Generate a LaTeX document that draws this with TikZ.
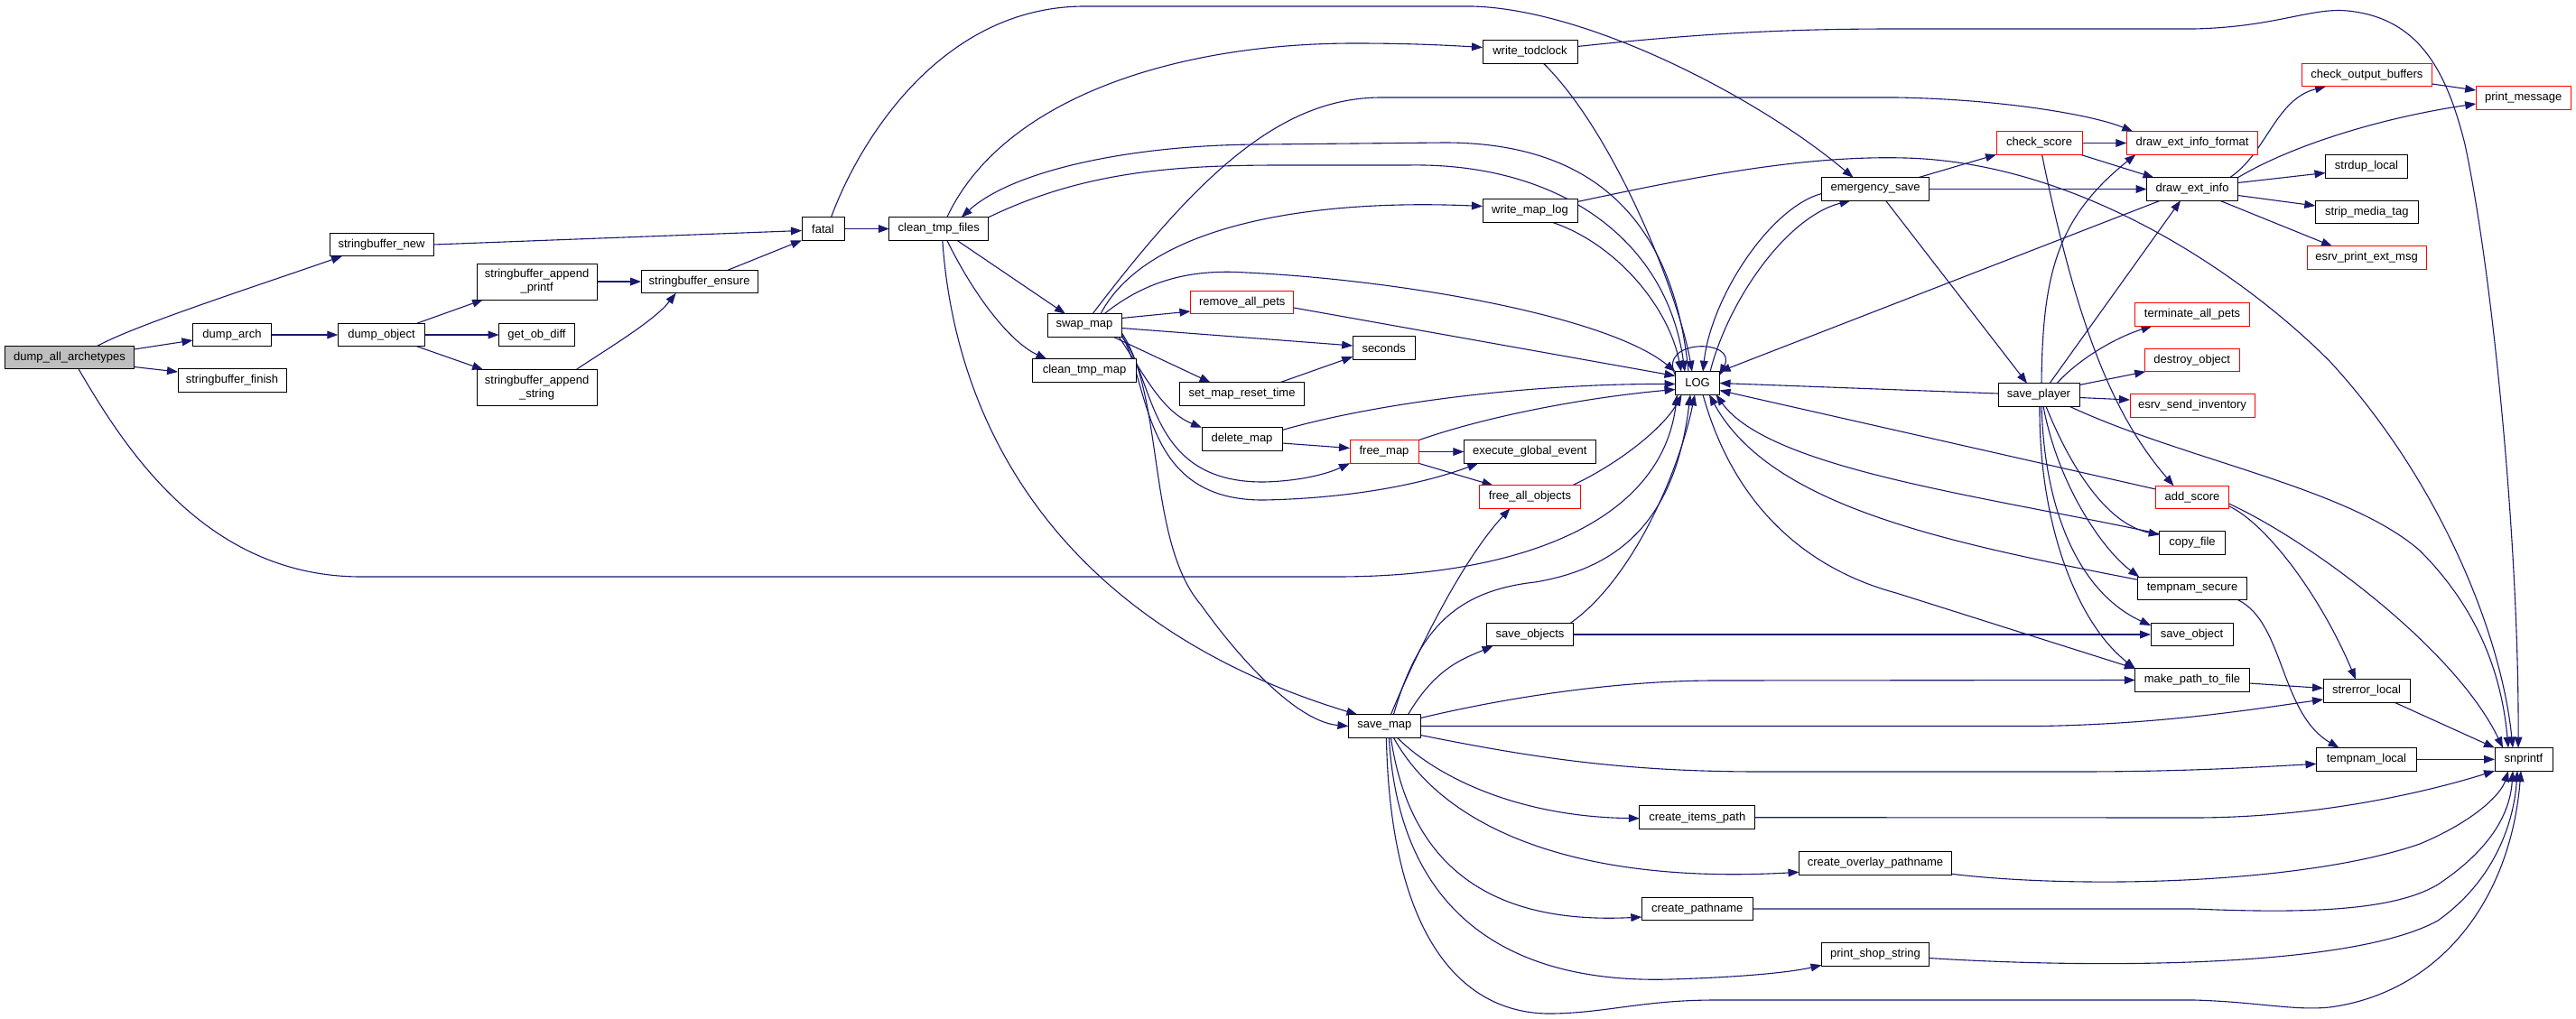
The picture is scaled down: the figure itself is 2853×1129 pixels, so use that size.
\documentclass[tikz,border=0pt]{standalone}
\usepackage{fontspec}
\setmainfont{Liberation Sans}
\usetikzlibrary{arrows.meta,calc}
\definecolor{edgec}{HTML}{191970}
\pgfdeclarelayer{bglayer}
\pgfdeclarelayer{edgelayer}
\pgfsetlayers{bglayer,edgelayer,main}
\begin{document}
\begin{tikzpicture}[x=0.5pt,y=-0.5pt,
  box/.style={draw=black,line width=0.5pt,fill=white,inner sep=0pt,outer sep=0pt,minimum height=12.75pt,font=\fontsize{6.5}{7.6}\selectfont,align=center},
  redbox/.style={box,draw=red},
  e/.style={draw=edgec,line width=0.55pt,-{Triangle[length=6pt,width=4.4pt]}}]
\begin{pgfonlayer}{bglayer}
\fill[white] (0,0) rectangle (2853,1129);
\end{pgfonlayer}
\useasboundingbox (0,0) rectangle (2853,1129);
% nodes
\node[box,minimum width=71.5pt,fill=gray!50] (dall) at (77,396) {dump\_all\_archetypes};
\node[box,minimum width=57.5pt] (sbnew) at (422.5,271) {stringbuffer\_new};
\node[box,minimum width=43.5pt] (darch) at (257,371) {dump\_arch};
\node[box,minimum width=60pt] (sbfinish) at (257,421.5) {stringbuffer\_finish};
\node[box,minimum width=48.25pt] (dobject) at (422.5,371) {dump\_object};
\node[box,minimum width=66.5pt,minimum height=20pt] (sbprintf) at (594.6,312) {stringbuffer\_append\\\_printf};
\node[box,minimum width=42pt] (getob) at (594.5,371) {get\_ob\_diff};
\node[box,minimum width=66.5pt,minimum height=20pt] (sbstring) at (594.6,429.5) {stringbuffer\_append\\\_string};
\node[box,minimum width=64.5pt] (sbensure) at (774.6,312) {stringbuffer\_ensure};
\node[box,minimum width=23.5pt] (fatal) at (911.5,253.5) {fatal};
\node[box,minimum width=55pt] (ctf) at (1039.8,253.5) {clean\_tmp\_files};
\node[box,minimum width=41pt] (swapmap) at (1201,360.5) {swap\_map};
\node[box,minimum width=57.5pt] (ctmap) at (1201,410.5) {clean\_tmp\_map};
\node[redbox,minimum width=57.25pt] (rmpets) at (1375.7,335) {remove\_all\_pets};
\node[box,minimum width=69pt] (smrt) at (1375.6,436.5) {set\_map\_reset\_time};
\node[box,minimum width=44.5pt] (delmap) at (1375.5,486.5) {delete\_map};
\node[box,minimum width=52.5pt] (wtod) at (1694.5,57.5) {write\_todclock};
\node[box,minimum width=52.5pt] (wmaplog) at (1694.5,233.5) {write\_map\_log};
\node[box,minimum width=34.5pt] (seconds) at (1532.7,385.5) {seconds};
\node[redbox,minimum width=38pt] (freemap) at (1533,500.5) {free\_map};
\node[box,minimum width=73pt] (egevent) at (1694.3,500.5) {execute\_global\_event};
\node[redbox,minimum width=56pt] (fao) at (1694.5,550.5) {free\_all\_objects};
\node[box,minimum width=48pt] (sobjs) at (1694.5,703) {save\_objects};
\node[box,minimum width=40pt] (savemap) at (1533.4,804.5) {save\_map};
\node[box,minimum width=24.5pt] (LOG) at (1880,424.5) {LOG};
\node[box,minimum width=59.5pt] (esave) at (2077,209.5) {emergency\_save};
\node[box,minimum width=64pt] (citems) at (1879.8,905.7) {create\_items\_path};
\node[box,minimum width=84.5pt] (coverlay) at (2077,956.3) {create\_overlay\_pathname};
\node[box,minimum width=61.5pt] (cpath) at (1879.8,1007) {create\_pathname};
\node[box,minimum width=59.5pt] (pshop) at (2077,1057.5) {print\_shop\_string};
\node[redbox,minimum width=47.5pt] (cscore) at (2258.5,158.5) {check\_score};
\node[box,minimum width=45pt] (splayer) at (2258,437.5) {save\_player};
\node[redbox,minimum width=72.75pt] (dextfmt) at (2428,158.5) {draw\_ext\_info\_format};
\node[box,minimum width=50.5pt] (dext) at (2428,209.5) {draw\_ext\_info};
\node[redbox,minimum width=63.5pt] (tapets) at (2428,348.5) {terminate\_all\_pets};
\node[redbox,minimum width=52.5pt] (dobj) at (2427.7,399) {destroy\_object};
\node[redbox,minimum width=69pt] (esi) at (2428,449.5) {esrv\_send\_inventory};
\node[redbox,minimum width=40.5pt] (addscore) at (2428,551) {add\_score};
\node[box,minimum width=36.25pt] (cfile) at (2428,601.5) {copy\_file};
\node[box,minimum width=60.75pt] (tsecure) at (2428,652) {tempnam\_secure};
\node[box,minimum width=45.5pt] (sobj) at (2427.5,703) {save\_object};
\node[box,minimum width=63.2pt] (mptf) at (2428,753.5) {make\_path\_to\_file};
\node[redbox,minimum width=72.3pt] (cob) at (2621.3,83) {check\_output\_buffers};
\node[redbox,minimum width=52.5pt] (pmsg) at (2794.7,108.5) {print\_message};
\node[box,minimum width=45.5pt] (strdup) at (2621,184.5) {strdup\_local};
\node[box,minimum width=57pt] (strip) at (2621.3,235) {strip\_media\_tag};
\node[redbox,minimum width=66pt] (esrvpem) at (2621,285.5) {esrv\_print\_ext\_msg};
\node[box,minimum width=48pt] (strerr) at (2621,765.5) {strerror\_local};
\node[box,minimum width=55.5pt] (tlocal) at (2621,841.3) {tempnam\_local};
\node[box,minimum width=32pt] (snprintf) at (2795,841.3) {snprintf};
% edges
\begin{pgfonlayer}{edgelayer}
\draw[e] ($(dall.north)+(31,0)$) .. controls (150,360) and (290,315) .. ($(sbnew.south west)+(14,0)$);
\draw[e] ($(dall.east)+(0,-9)$) -- ($(darch.west)+(0,6)$);
\draw[e] ($(dall.east)+(0,10.5)$) -- ($(sbfinish.west)+(0,-9.5)$);
\draw[e] ($(dall.south)+(10,0)$) .. controls (140,500) and (230,639) .. (400,639) -- (1480,639) .. controls (1680,639) and (1840,580) .. ($(LOG.south west)+(2,0)$);
\draw[e] (sbnew.east) -- ($(fatal.west)+(0,2)$);
\draw[e] (darch.east) -- (dobject.west);
\draw[e] ($(dobject.north east)+(-9,0)$) -- ($(sbprintf.south west)+(7,0)$);
\draw[e] (dobject.east) -- (getob.west);
\draw[e] ($(dobject.south east)+(-9,0)$) -- ($(sbstring.north west)+(7,0)$);
\draw[e] (sbprintf.east) -- (sbensure.west);
\draw[e] ($(sbstring.north east)+(-23,0)$) .. controls (675,385) and (725,355) .. ($(sbensure.south)+(-26,0)$);
\draw[e] ($(sbensure.north east)+(-33,0)$) -- (fatal.south west);
\draw[e] (fatal.east) -- (ctf.west);
\draw[e] ($(fatal.north)+(9,0)$) .. controls (950,160) and (1040,8) .. (1200,7) -- (1630,7) .. controls (1760,10) and (1950,110) .. ($(esave.north west)+(35,0)$);
% clean_tmp_files
\draw[e] ($(ctf.north)+(9,0)$) .. controls (1110,110) and (1300,48) .. (1500,48) .. controls (1560,48) and (1600,50) .. ($(wtod.west)+(0,-5)$);
\draw[e] ($(LOG.north)+(-10,0)$) .. controls (1855,260) and (1780,158) .. (1600,158) -- (1400,160) .. controls (1250,160) and (1120,190) .. ($(ctf.north)+(25,0)$);
\draw[e] (ctf.north east) .. controls (1200,190) and (1300,183) .. (1420,183) -- (1560,183) .. controls (1720,180) and (1845,260) .. ($(LOG.north)+(-14,0)$);
\draw[e] ($(ctf.south)+(20,0)$) -- ($(swapmap.north west)+(20,0)$);
\draw[e] ($(ctf.south)+(9,0)$) .. controls (1080,330) and (1120,380) .. ($(ctmap.north west)+(16,0)$);
\draw[e] ($(ctf.south)+(4,0)$) .. controls (1060,500) and (1200,700) .. ($(savemap.north west)+(10,0)$);
% swap_map
\draw[e] ($(swapmap.east)+(0,-8)$) -- ($(rmpets.west)+(0,10)$);
\draw[e] ($(swapmap.east)+(0,3)$) -- ($(seconds.west)+(0,-2.5)$);
\draw[e] ($(swapmap.north)+(18,0)$) .. controls (1270,250) and (1450,220) .. ($(wmaplog.west)+(0,-5)$);
\draw[e] ($(swapmap.north)+(9,0)$) .. controls (1330,190) and (1420,108) .. (1530,108) -- (2100,108) .. controls (2220,110) and (2320,128) .. ($(dextfmt.north west)+(7,0)$);
\draw[e] ($(swapmap.north)+(22,0)$) .. controls (1270,310) and (1320,298) .. (1380,302) .. controls (1550,310) and (1780,350) .. (LOG.north west);
\draw[e] ($(swapmap.south east)+(-9,0)$) -- ($(smrt.north west)+(34,0)$);
\draw[e] ($(swapmap.south east)+(-3,0)$) .. controls (1265,410) and (1285,455) .. (delmap.north west);
\draw[e] ($(swapmap.south east)+(0,-1)$) .. controls (1280,420) and (1270,535) .. (1400,534) .. controls (1440,533) and (1470,525) .. (freemap.south west);
\draw[e] ($(swapmap.south east)+(0,-3)$) .. controls (1275,430) and (1265,555) .. (1400,554) .. controls (1500,552) and (1580,535) .. ($(egevent.south west)+(16,0)$);
\draw[e] ($(swapmap.south east)+(0,-5)$) .. controls (1290,440) and (1270,600) .. (1330,670) .. controls (1380,740) and (1440,800) .. (savemap.west);
\draw[e] ($(rmpets.east)+(0,6)$) -- ($(LOG.west)+(0,-8)$);
\draw[e] ($(smrt.north east)+(-27,0)$) -- ($(seconds.south west)+(0,-3)$);
\draw[e] ($(delmap.east)+(0,4.5)$) -- ($(freemap.west)+(0,-4)$);
\draw[e] ($(delmap.east)+(0,-10)$) .. controls (1530,445) and (1700,425) .. ($(LOG.west)+(0,1)$);
\draw[e] (freemap.north east) .. controls (1650,460) and (1760,440) .. ($(LOG.west)+(0,7)$);
\draw[e] (freemap.east) -- (egevent.west);
\draw[e] (freemap.south east) -- ($(fao.north west)+(15,0)$);
\draw[e] ($(fao.north east)+(-9,0)$) .. controls (1800,510) and (1845,470) .. ($(LOG.south west)+(7,0)$);
% write_todclock, write_map_log
\draw[e] ($(wtod.south)+(15,0)$) .. controls (1790,150) and (1860,330) .. ($(LOG.north)+(-6,0)$);
\draw[e] ($(wtod.east)+(0,-6)$) .. controls (1900,35) and (2000,32) .. (2100,32) -- (2430,32) .. controls (2520,30) and (2560,8) .. (2600,12) .. controls (2680,20) and (2710,80) .. (2730,160) .. controls (2760,300) and (2790,600) .. ($(snprintf.north)+(-6,0)$);
\draw[e] ($(wmaplog.south east)+(-28,0)$) .. controls (1790,270) and (1848,340) .. ($(LOG.north)+(-18,0)$);
\draw[e] ($(wmaplog.east)+(0,-10)$) .. controls (1880,195) and (2000,172) .. (2110,175) .. controls (2300,180) and (2480,300) .. (2580,400) .. controls (2700,530) and (2770,700) .. ($(snprintf.north)+(-12,0)$);
% LOG
\draw[e] ($(LOG.north west)+(0,4)$) .. controls (1835,375) and (1925,375) .. ($(LOG.north east)+(0,4)$);
\draw[e] ($(LOG.north)+(14,0)$) .. controls (1915,330) and (1980,240) .. ($(esave.south west)+(32,0)$);
\draw[e] ($(esave.west)+(0,5)$) .. controls (1960,230) and (1895,330) .. ($(LOG.north)+(6,0)$);
% emergency_save
\draw[e] ($(esave.north east)+(-12,0)$) -- (cscore.south west);
\draw[e] (esave.east) -- (dext.west);
\draw[e] ($(esave.south east)+(-48,0)$) -- ($(splayer.north)+(-13,0)$);
% check_score
\draw[e] (cscore.east) -- (dextfmt.west);
\draw[e] ($(cscore.south east)+(-2,0)$) -- ($(dext.north west)+(8,0)$);
\draw[e] ($(cscore.south)+(3,0)$) .. controls (2300,360) and (2340,460) .. ($(addscore.north west)+(20,0)$);
% draw_ext_info
\draw[e] ($(dext.north east)+(-9,0)$) .. controls (2510,170) and (2520,110) .. ($(cob.south west)+(27,0)$);
\draw[e] (dext.north east) .. controls (2540,160) and (2640,130) .. ($(pmsg.west)+(0,6.5)$);
\draw[e] ($(dext.east)+(0,-7)$) -- ($(strdup.west)+(0,7)$);
\draw[e] ($(dext.east)+(0,7)$) -- ($(strip.west)+(0,-7)$);
\draw[e] ($(dext.south east)+(-20,0)$) -- ($(esrvpem.north west)+(28,0)$);
\draw[e] ($(dext.south west)+(15,0)$) -- (LOG.north east);
\draw[e] ($(cob.east)+(0,10)$) -- ($(pmsg.west)+(0,-8.5)$);
% save_player
\draw[e] ($(splayer.west)+(0,-1.5)$) -- (LOG.east);
\draw[e] ($(splayer.north)+(3,0)$) .. controls (2262,300) and (2280,240) .. ($(dextfmt.south west)+(10,0)$);
\draw[e] ($(splayer.north)+(12,0)$) -- ($(dext.south)+(-13,0)$);
\draw[e] ($(splayer.north east)+(-25,0)$) .. controls (2300,400) and (2340,375) .. ($(tapets.south west)+(19,0)$);
\draw[e] ($(splayer.east)+(0,-11)$) -- ($(dobj.south west)+(1,0)$);
\draw[e] ($(splayer.east)+(0,3)$) -- ($(esi.west)+(0,-6.5)$);
\draw[e] ($(splayer.south east)+(-11,0)$) .. controls (2420,510) and (2600,540) .. (2680,610) .. controls (2740,670) and (2770,740) .. ($(snprintf.north)+(-17,0)$);
\draw[e] ($(splayer.south)+(8,0)$) .. controls (2290,510) and (2330,580) .. ($(cfile.west)+(0,-9)$);
\draw[e] ($(splayer.south)+(5,0)$) .. controls (2280,540) and (2330,610) .. ($(tsecure.north west)+(2,0)$);
\draw[e] ($(splayer.south)+(3,0)$) .. controls (2265,580) and (2310,660) .. ($(sobj.west)+(0,-10)$);
\draw[e] ($(splayer.south)+(1,0)$) .. controls (2258,580) and (2300,690) .. (mptf.north west);
% add_score, copy_file, tempnam_secure
\draw[e] ($(addscore.west)+(0,-9)$) -- ($(LOG.east)+(0,8)$);
\draw[e] ($(addscore.south east)+(0,-3)$) .. controls (2510,580) and (2570,660) .. ($(strerr.north)+(-12,0)$);
\draw[e] ($(addscore.east)+(0,7)$) .. controls (2560,600) and (2720,720) .. ($(snprintf.north)+(-23,0)$);
\draw[e] ($(cfile.west)+(0,-10)$) .. controls (2200,550) and (1960,520) .. ($(LOG.south east)+(-4,0)$);
\draw[e] ($(tsecure.north west)+(0,3)$) .. controls (2150,600) and (1960,560) .. ($(LOG.south)+(13,0)$);
\draw[e] ($(LOG.south)+(6,0)$) .. controls (1920,560) and (2000,630) .. (2100,657) -- (mptf.north west);
\draw[e] ($(tsecure.south east)+(-10,0)$) .. controls (2530,690) and (2525,790) .. ($(tlocal.north west)+(25,0)$);
% save_objects
\draw[e] ($(sobjs.north east)+(-3,0)$) .. controls (1810,640) and (1860,520) .. ($(LOG.south)+(-3,0)$);
\draw[e] (sobjs.east) -- (sobj.west);
% save_map
\draw[e] ($(savemap.north)+(7,0)$) .. controls (1570,720) and (1620,620) .. ($(fao.south)+(-22,0)$);
\draw[e] ($(savemap.north)+(10,0)$) .. controls (1570,700) and (1610,655) .. (1700,645) .. controls (1790,630) and (1855,580) .. ($(LOG.south)+(-8,0)$);
\draw[e] ($(savemap.north east)+(-14,0)$) .. controls (1590,740) and (1620,730) .. ($(sobjs.south west)+(7,0)$);
\draw[e] ($(savemap.east)+(0,-9)$) .. controls (1680,770) and (1800,754) .. (1900,754) -- (mptf.west);
\draw[e] (savemap.east) -- (2260,804.5) .. controls (2400,802) and (2500,785) .. ($(strerr.west)+(0,9.5)$);
\draw[e] ($(savemap.east)+(0,10)$) .. controls (1700,840) and (1800,855) .. (1950,855) -- (2300,855) .. controls (2420,855) and (2500,850) .. ($(tlocal.west)+(0,5)$);
\draw[e] ($(savemap.south)+(14,0)$) .. controls (1590,860) and (1680,905) .. ($(citems.west)+(0,1)$);
\draw[e] ($(savemap.south)+(10,0)$) .. controls (1600,920) and (1750,980) .. ($(coverlay.west)+(0,10)$);
\draw[e] ($(savemap.south)+(7,0)$) .. controls (1560,950) and (1640,1025) .. ($(cpath.west)+(0,9)$);
\draw[e] ($(savemap.south)+(5,0)$) .. controls (1550,1020) and (1680,1090) .. (1850,1085) .. controls (1920,1083) and (1980,1078) .. ($(pshop.south west)+(0,-1)$);
\draw[e] ($(savemap.south)+(2,0)$) .. controls (1540,1040) and (1620,1125) .. (1720,1123) .. controls (1780,1122) and (1820,1108) .. (1900,1108) -- (2430,1108) .. controls (2500,1110) and (2540,1120) .. (2580,1116) .. controls (2700,1100) and (2780,1000) .. ($(snprintf.south)+(-3,0)$);
% to snprintf
\draw[e] (citems.east) -- (2430,906) .. controls (2560,906) and (2680,880) .. (snprintf.south west);
\draw[e] ($(coverlay.east)+(0,12)$) .. controls (2300,985) and (2550,980) .. (2680,935) .. controls (2740,910) and (2770,880) .. ($(snprintf.south)+(-17,0)$);
\draw[e] (cpath.east) -- (2430,1007) .. controls (2550,1012) and (2650,1010) .. (2700,980) .. controls (2760,940) and (2780,900) .. ($(snprintf.south)+(-12,0)$);
\draw[e] ($(pshop.east)+(0,4)$) .. controls (2300,1072) and (2600,1075) .. (2700,1020) .. controls (2770,970) and (2785,900) .. ($(snprintf.south)+(-7,0)$);
\draw[e] ($(mptf.east)+(0,3.5)$) -- ($(strerr.west)+(0,-3)$);
\draw[e] ($(strerr.south east)+(-17,0)$) -- (snprintf.north west);
\draw[e] (tlocal.east) -- (snprintf.west);
\end{pgfonlayer}
\end{tikzpicture}
\end{document}
